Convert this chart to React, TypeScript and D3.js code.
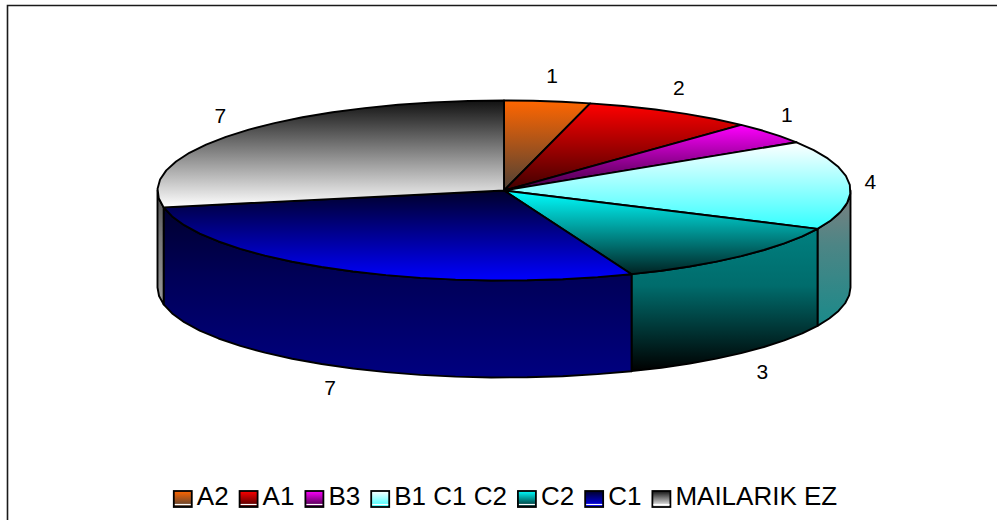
import * as d3 from "d3";

const categories = ["A2", "A1", "B3", "B1 C1 C2", "C2", "C1", "MAILARIK EZ"];
const values = [1, 2, 1, 4, 3, 7, 7];
const topStart = ["#ff6600", "#ff0000", "#ff00ff", "#ffffff", "#00ffff", "#00002a", "#111111"];
const topEnd = ["#4d4036", "#400000", "#3a003a", "#33ffff", "#002222", "#0000ff", "#ffffff"];
const wallStart = ["#333333", "#400000", "#400040", "#808080", "#008080", "#00002e", "#555555"];
const wallMid = ["#262626", "#300000", "#300030", "#4d8585", "#006c6c", "#000057", "#777777"];
const wallEnd = ["#1a1a1a", "#200000", "#200020", "#1a8a8a", "#000000", "#000080", "#999999"];

// the labels sit by hand in the original, so they drift a little off the ring
const labelNudgeX = [2, -2, 0, 0, 7, 3, -1];
const labelNudgeY = [3, 1, 0, -1, -2, -3, 1];

const width = 997;
const height = 520;
const cx = 504;
const cy = 190.5;
const rx = 346.5;
const ry = 90;
const depth = 97;
const labelRx = 367;
const labelRy = 118;
const legendFont = "26px 'Liberation Sans', Arial, sans-serif";

const pieLayout = d3.pie<number>().sort(null);
const slices = pieLayout(values);

const xScale = d3.scaleLinear().domain([-1, 1]).range([cx - rx, cx + rx]);
const yScale = d3.scaleLinear().domain([-1, 1]).range([cy - ry, cy + ry]);
const labelX = d3.scaleLinear().domain([-1, 1]).range([cx - labelRx, cx + labelRx]);
const labelY = d3.scaleLinear().domain([-1, 1]).range([cy - labelRy, cy + labelRy]);

const line = d3.line<[number, number]>();

// the rim is a coarse polygon in the original, so step it about every 6 degrees
const rimPoints = (a0: number, a1: number, dy = 0): [number, number][] => {
  const n = Math.max(1, Math.ceil((a1 - a0) / (Math.PI / 30)));
  return d3.range(n + 1).map((i) => {
    const a = a0 + ((a1 - a0) * i) / n;
    return [xScale(Math.sin(a)), yScale(-Math.cos(a)) + dy] as [number, number];
  });
};

const topPath = (a0: number, a1: number) =>
  line([[cx, cy], ...rimPoints(a0, a1)]) + "Z";

const wallPath = (a0: number, a1: number) => {
  const upper = rimPoints(a0, a1);
  const lower = rimPoints(a0, a1, depth).reverse();
  return line([...upper, ...lower]) + "Z";
};

const measure = (text: string) => {
  const ctx = document.createElement("canvas").getContext("2d");
  if (!ctx) return text.length * 14;
  ctx.font = legendFont;
  return ctx.measureText(text).width;
};

const swatch = 18;
const swatchGap = 5;
const entryGap = 11;
const textWidths = categories.map(measure);
const legendTotal =
  d3.sum(textWidths) + categories.length * (swatch + swatchGap) + (categories.length - 1) * entryGap;
let legendCursor = 505.5 - legendTotal / 2;
const legendX = textWidths.map((w) => {
  const x = legendCursor;
  legendCursor += swatch + swatchGap + w + entryGap;
  return x;
});

export default function App() {
  return (
    <svg
      width={width}
      height={height}
      viewBox={`0 0 ${width} ${height}`}
      style={{ position: "absolute", left: 0, top: 0, display: "block", background: "#fff" }}
      fontFamily="'Liberation Sans', Arial, sans-serif"
    >
      <defs>
        {categories.map((_, i) => (
          <g key={i}>
            <linearGradient id={`top${i}`} x1="0" y1="0" x2="0" y2="1">
              <stop offset="0" stopColor={topStart[i]} />
              <stop offset="1" stopColor={topEnd[i]} />
            </linearGradient>
            <linearGradient id={`wall${i}`} x1="0" y1="0" x2="0" y2="1">
              <stop offset="0" stopColor={wallStart[i]} />
              <stop offset="0.4" stopColor={wallMid[i]} />
              <stop offset="1" stopColor={wallEnd[i]} />
            </linearGradient>
          </g>
        ))}
      </defs>

      <path d={`M7.5,${height}V5.5H${width}`} fill="none" stroke="#1a1a1a" strokeWidth={1.6} />

      {/* side wall, only the front half of the disc shows */}
      {slices.map((s, i) => {
        const a0 = Math.max(s.startAngle, Math.PI / 2);
        const a1 = Math.min(s.endAngle, (3 * Math.PI) / 2);
        if (a1 <= a0) return null;
        return (
          <path
            key={i}
            d={wallPath(a0, a1)}
            fill={`url(#wall${i})`}
            stroke="#000"
            strokeWidth={1.9}
            strokeLinejoin="round"
          />
        );
      })}

      {slices.map((s, i) => (
        <path
          key={i}
          d={topPath(s.startAngle, s.endAngle)}
          fill={`url(#top${i})`}
          stroke="#000"
          strokeWidth={1.9}
          strokeLinejoin="round"
        />
      ))}

      {slices.map((s, i) => {
        const mid = (s.startAngle + s.endAngle) / 2;
        const front = Math.cos(mid) < 0;
        return (
          <text
            key={i}
            x={labelX(Math.sin(mid)) + labelNudgeX[i]}
            y={labelY(-Math.cos(mid)) + (front ? depth : 0) + 7 + labelNudgeY[i]}
            fontSize={21}
            textAnchor="middle"
            fill="#000"
          >
            {values[i]}
          </text>
        );
      })}

      {categories.map((c, i) => (
        <g key={c} transform={`translate(${legendX[i]},491)`}>
          <rect width={swatch} height={16} fill={`url(#top${i})`} stroke="#000" strokeWidth={1.8} />
          <line x1={1} x2={swatch - 1} y1={13.5} y2={13.5} stroke="#fff" strokeWidth={1.2} />
          <text x={swatch + swatchGap} y={14} fontSize={26} fill="#000">
            {c}
          </text>
        </g>
      ))}
    </svg>
  );
}
